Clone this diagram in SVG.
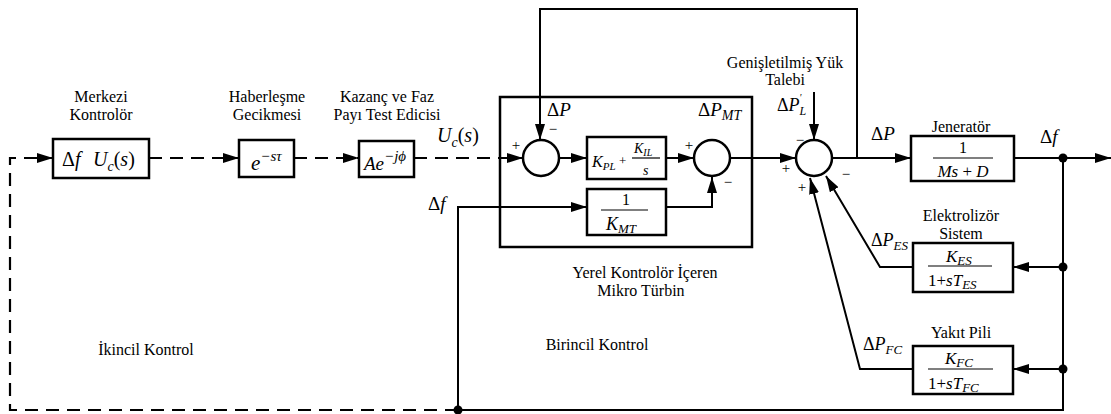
<svg xmlns="http://www.w3.org/2000/svg" width="1111" height="414" viewBox="0 0 1111 414">
<style>
.box{fill:#fff;stroke:#000;stroke-width:2.5}
.sum{fill:#fff;stroke:#000;stroke-width:2.5}
.ln{fill:none;stroke:#000;stroke-width:2}
.dash{fill:none;stroke:#000;stroke-width:2.2;stroke-dasharray:13 8}
.frac{stroke:#000;stroke-width:1.2}
text{font-family:"Times New Roman","Liberation Serif","DejaVu Serif",serif;fill:#000}
.lbl{font-size:16px;text-anchor:middle}
.m{font-style:italic}
.sg{font-size:15px;text-anchor:middle}
</style>
<defs>
<marker id="arr" markerUnits="userSpaceOnUse" markerWidth="16" markerHeight="10" refX="16" refY="5" orient="auto">
<path d="M0,0 L16,5 L0,10 z" fill="#000"/>
</marker>
</defs>

<g id="connectors">
<path class="dash" d="M458,410 H10 V158 H53" marker-end="url(#arr)"/>
<path class="dash" d="M149,158 H239" marker-end="url(#arr)"/>
<path class="dash" d="M294,158 H359" marker-end="url(#arr)"/>
<path class="dash" d="M414,158 H523" marker-end="url(#arr)"/>
<path class="ln" d="M560,158 H587" marker-end="url(#arr)"/>
<path class="ln" d="M666,158 H694" marker-end="url(#arr)"/>
<path class="ln" d="M731,158 H796" marker-end="url(#arr)"/>
<path class="ln" d="M832,158 H911" marker-end="url(#arr)"/>
<path class="ln" d="M857,158 V9 H540 V140" marker-end="url(#arr)"/>
<path class="ln" d="M814,92 V140" marker-end="url(#arr)"/>
<path class="ln" d="M1014,158 H1111" marker-end="url(#arr)"/>
<path class="ln" d="M1063,158 V410 H458"/>
<path class="ln" d="M458,410 V207 H587" marker-end="url(#arr)"/>
<path class="ln" d="M666,207 H712 V177" marker-end="url(#arr)"/>
<path class="ln" d="M1063,267 H1013" marker-end="url(#arr)"/>
<path class="ln" d="M1063,369 H1013" marker-end="url(#arr)"/>
<path class="ln" d="M913,267 H880 L826,176" marker-end="url(#arr)"/>
<path class="ln" d="M913,369 H860 L810,178" marker-end="url(#arr)"/>
<circle cx="1063" cy="158" r="4.5" fill="#000"/>
<circle cx="1063" cy="267" r="4.5" fill="#000"/>
<circle cx="1063" cy="369" r="4.5" fill="#000"/>
<circle cx="458" cy="410" r="4.5" fill="#000"/>
</g>

<g id="merkezi" font-family="Liberation Serif, serif">
<rect class="box" x="53" y="139" width="96" height="39"/>
<text class="lbl" x="101" y="102">Merkezi</text>
<text class="lbl" x="101" y="120">Kontrolör</text>
<text x="62" y="166" font-size="20">Δ<tspan class="m">f</tspan></text>
<text class="m" x="93" y="166" font-size="20">U<tspan font-size="14" dy="5">c</tspan><tspan dy="-5" font-style="normal">(</tspan>s<tspan font-style="normal">)</tspan></text>
</g>

<g id="gecikme">
<rect class="box" x="239" y="140" width="55" height="37"/>
<text class="lbl" x="267" y="102">Haberleşme</text>
<text class="lbl" x="267" y="120">Gecikmesi</text>
<text class="m" x="251" y="170" font-size="21">e<tspan font-size="15" dy="-9">−sτ</tspan></text>
</g>

<g id="kazanc">
<rect class="box" x="359" y="141" width="55" height="36"/>
<text class="lbl" x="387" y="102">Kazanç ve Faz</text>
<text class="lbl" x="387" y="120">Payı Test Edicisi</text>
<text class="m" x="364" y="170" font-size="19">Ae<tspan font-size="15" dy="-9">−jϕ</tspan></text>
<text class="m" x="437" y="142" font-size="20">U<tspan font-size="14" dy="5">c</tspan><tspan dy="-5" font-style="normal">(</tspan>s<tspan font-style="normal">)</tspan></text>
</g>

<g id="mikroturbin">
<rect x="500" y="97" width="252" height="150" style="fill:none;stroke:#000;stroke-width:2.5"/>
<text class="lbl" x="645" y="278">Yerel Kontrolör İçeren</text>
<text class="lbl" x="641" y="296">Mikro Türbin</text>
</g>

<g id="sum1">
<circle class="sum" cx="541" cy="158" r="18"/>
<text x="547" y="116" font-size="19">Δ<tspan class="m">P</tspan></text>
<text class="sg" x="553" y="134">−</text>
<text class="sg" x="516" y="150">+</text>
</g>

<g id="pi">
<rect class="box" x="587" y="137" width="79" height="42"/>
<text class="m" x="592" y="167" font-size="16">K<tspan font-size="11" dy="3">PL</tspan></text>
<text x="619" y="165" font-size="13">+</text>
<text class="m" x="634" y="153" font-size="14">K<tspan font-size="10" dy="3">IL</tspan></text>
<line class="frac" x1="632" y1="158" x2="660" y2="158"/>
<text class="m" x="643" y="175" font-size="14">s</text>
</g>

<g id="kmt">
<rect class="box" x="587" y="189" width="79" height="46"/>
<text x="626" y="205" font-size="16" text-anchor="middle">1</text>
<line class="frac" x1="601" y1="210" x2="648" y2="210"/>
<text class="m" x="606" y="230" font-size="18">K<tspan font-size="13" dy="3">MT</tspan></text>
</g>

<g id="sum2">
<circle class="sum" cx="712" cy="158" r="18"/>
<text x="698" y="116" font-size="19">Δ<tspan class="m">P<tspan font-size="14" dy="4">MT</tspan></tspan></text>
<text class="sg" x="689" y="150">+</text>
<text class="sg" x="728" y="187">−</text>
</g>

<g id="sum3">
<circle class="sum" cx="814" cy="158" r="18"/>
<text class="lbl" x="785" y="68">Genişletilmiş Yük</text>
<text class="lbl" x="785" y="85">Talebi</text>
<text x="777" y="111" font-size="18">Δ<tspan class="m">P<tspan font-size="12" dy="4">L</tspan><tspan font-size="10" dx="-7" dy="-14">'</tspan></tspan></text>
<text class="sg" x="800" y="145">−</text>
<text class="sg" x="786" y="173">+</text>
<text class="sg" x="802" y="192">+</text>
<text class="sg" x="846" y="179">−</text>
<text x="871" y="140" font-size="19">Δ<tspan class="m">P</tspan></text>
</g>

<g id="jenerator">
<rect class="box" x="911" y="136" width="103" height="45"/>
<text class="lbl" x="961" y="132">Jeneratör</text>
<text x="963" y="153" font-size="16" text-anchor="middle">1</text>
<line class="frac" x1="933" y1="158" x2="993" y2="158"/>
<text class="m" x="963" y="177" font-size="17" text-anchor="middle">Ms<tspan font-style="normal"> + </tspan>D</text>
<text x="1040" y="143" font-size="19">Δ<tspan class="m">f</tspan></text>
</g>

<g id="elektrolizor">
<rect class="box" x="913" y="243" width="100" height="49"/>
<text class="lbl" x="961" y="221">Elektrolizör</text>
<text class="lbl" x="961" y="239">Sistem</text>
<text class="m" x="946" y="262" font-size="17">K<tspan font-size="13" dy="3">ES</tspan></text>
<line class="frac" x1="928" y1="266" x2="992" y2="266"/>
<text x="928" y="286" font-size="17">1+<tspan class="m">sT<tspan font-size="13" dy="3">ES</tspan></tspan></text>
<text x="871" y="246" font-size="18">Δ<tspan class="m">P<tspan font-size="13" dy="4">ES</tspan></tspan></text>
</g>

<g id="yakitpili">
<rect class="box" x="913" y="346" width="100" height="48"/>
<text class="lbl" x="961" y="338">Yakıt Pili</text>
<text class="m" x="945" y="364" font-size="17">K<tspan font-size="13" dy="3">FC</tspan></text>
<line class="frac" x1="928" y1="369" x2="993" y2="369"/>
<text x="928" y="389" font-size="17">1+<tspan class="m">sT<tspan font-size="13" dy="3">FC</tspan></tspan></text>
<text x="863" y="350" font-size="18">Δ<tspan class="m">P<tspan font-size="13" dy="4">FC</tspan></tspan></text>
</g>

<g id="labels">
<text x="428" y="210" font-size="19">Δ<tspan class="m">f</tspan></text>
<text class="lbl" x="146" y="355">İkincil Kontrol</text>
<text class="lbl" x="597" y="350">Birincil Kontrol</text>
</g>
</svg>
